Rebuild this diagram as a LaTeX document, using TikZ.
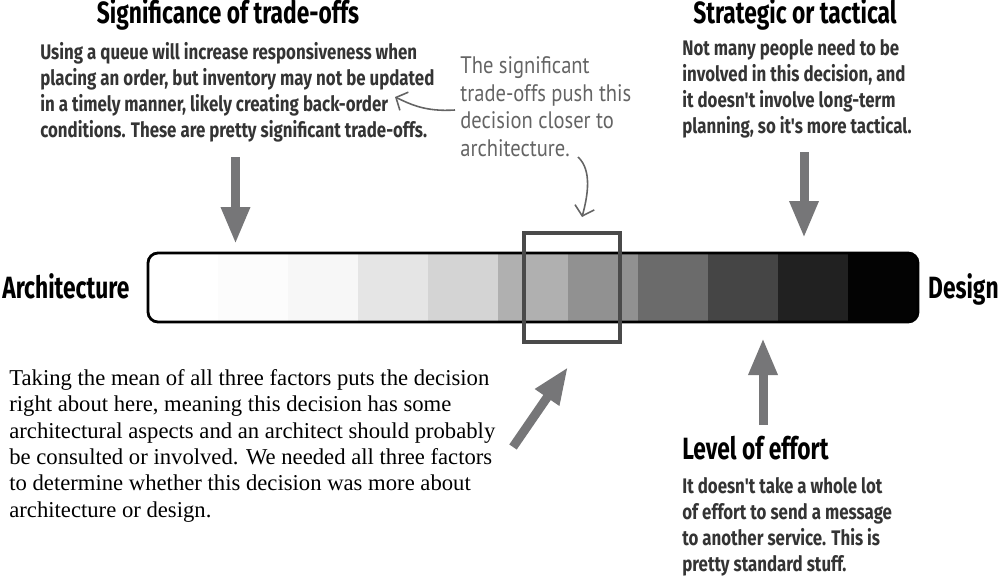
\documentclass[tikz,border=0pt]{standalone}
\usepackage{fontspec}
\setmainfont{Liberation Serif}
\newfontfamily\adhandfont[FakeStretch=0.74]{Fira Sans}
\newfontfamily\adbodyfont[FakeStretch=0.80]{Fira Sans}
\newfontfamily\adnotefont[FakeStretch=0.86]{PT Sans}
\usetikzlibrary{
  arrows.meta,
  positioning,
  calc
}
\definecolor{adInk}{RGB}{0,0,0}
\definecolor{adBody}{RGB}{52,52,52}
\definecolor{adNote}{RGB}{100,100,100}
\definecolor{adArrow}{RGB}{118,118,120}
\definecolor{adFrame}{RGB}{74,74,74}
\tikzset{
  adseg/.style={
    inner sep=0pt,
    outer sep=0pt,
    minimum width=14mm,
    minimum height=13.8mm
  },
  adbar/.style={
    draw=adInk,
    line width=1.6pt,
    rounded corners=2mm,
    inner sep=0pt,
    minimum width=154mm,
    minimum height=13.8mm
  },
  adframe/.style={
    draw=adFrame,
    line width=2.8pt,
    inner sep=0pt,
    minimum width=19.2mm,
    minimum height=21.8mm
  },
  adhead/.style={
    text=adInk,
    inner sep=0pt,
    font=\adhandfont\bfseries\fontsize{17.5}{20}\selectfont
  },
  adbody/.style={
    text=adBody,
    inner sep=0pt,
    align=left,
    anchor=north west,
    font=\adbodyfont\bfseries\fontsize{12}{14.8}\selectfont
  },
  adnote/.style={
    text=adNote,
    inner sep=0pt,
    align=left,
    anchor=north west,
    font=\adnotefont\fontsize{13.6}{15.8}\selectfont
  },
  adserif/.style={
    text=adInk,
    inner sep=0pt,
    align=left,
    anchor=north west,
    font=\fontsize{12.9}{15}\selectfont
  },
  adarrow/.style={
    -{Triangle[length=7.4mm,width=5.4mm]},
    line width=1.8mm,
    draw=adArrow
  },
  adnotearrow/.style={
    -{Straight Barb[length=1.8mm,width=4mm]},
    line width=0.9pt,
    draw=adNote
  }
}

\begin{document}
\begin{tikzpicture}[x=0.2mm,y=-0.2mm]
  \useasboundingbox (0,0) rectangle (1000,578);

  \begin{scope}
    \clip[rounded corners=2mm] (148,253) rectangle (918,322);
    \node[adseg, fill=white] (s1) at (183,287.5) {};
    \node[adseg, right=0pt of s1, fill=black!1] (s2) {};
    \node[adseg, right=0pt of s2, fill=black!3] (s3) {};
    \node[adseg, right=0pt of s3, fill=black!10] (s4) {};
    \node[adseg, right=0pt of s4, fill=black!17] (s5) {};
    \node[adseg, right=0pt of s5, fill=black!31] (s6) {};
    \node[adseg, right=0pt of s6, fill=black!43] (s7) {};
    \node[adseg, right=0pt of s7, fill=black!58] (s8) {};
    \node[adseg, right=0pt of s8, fill=black!73] (s9) {};
    \node[adseg, right=0pt of s9, fill=black!87] (s10) {};
    \node[adseg, right=0pt of s10, fill=black!99] (s11) {};
  \end{scope}
  \node[adbar] (bar) at (533,287.5) {};
  \node[adframe] (mean) at (572,287.5) {};

  \node[adhead, anchor=base west] (arch) at (2,298) {Architecture};
  \node[adhead, anchor=base east] (design) at (999,298) {Design};

  \node[adhead, anchor=base] (tradehead) at (228,24) {Significance of trade-offs};
  \node[adbody] (tradebody) at (40,42)
    {Using a queue will increase responsiveness when\\
     placing an order, but inventory may not be updated\\
     in a timely manner, likely creating back-order\\
     conditions. These are pretty significant trade-offs.};

  \node[adhead, anchor=base] (stratHead) at (795,24) {Strategic or tactical};
  \node[adbody] (stratbody) at (682,39)
    {Not many people need to be\\
     involved in this decision, and\\
     it doesn't involve long-term\\
     planning, so it's more tactical.};

  \node[adhead, anchor=base west] (efforthead) at (682,459) {Level of effort};
  \node[adbody] (effortbody) at (682,477)
    {It doesn't take a whole lot\\
     of effort to send a message\\
     to another service. This is\\
     pretty standard stuff.};

  \node[adnote] (note) at (460,56)
    {The significant\\
     trade-offs push this\\
     decision closer to\\
     architecture.};

  \node[adserif] (meantext) at (9,369)
    {Taking the mean of all three factors puts the decision\\
     right about here, meaning this decision has some\\
     architectural aspects and an architect should probably\\
     be consulted or involved. We needed all three factors\\
     to determine whether this decision was more about\\
     architecture or design.};

  \coordinate (tradeTail) at (235.5,157);
  \coordinate (tradeTip) at (235.5,244);
  \coordinate (stratTail) at (804,152);
  \coordinate (stratTip) at (804,238);
  \coordinate (effortTail) at (763,425);
  \coordinate (effortTip) at (763,338);
  \coordinate (meanTail) at (513,447);
  \coordinate (meanTip) at (568,367);
  \draw[adarrow] (tradeTail) -- (tradeTip);
  \draw[adarrow] (stratTail) -- (stratTip);
  \draw[adarrow] (effortTail) -- (effortTip);
  \draw[adarrow] (meanTail) -- (meanTip);

  \coordinate (noteOut) at (455,110);
  \coordinate (noteIn) at (395,97);
  \coordinate (noteDown) at (578,157);
  \coordinate (noteBox) at (582,217);
  \draw[adnotearrow] (noteOut) .. controls (425,112) and (410,104) .. (noteIn);
  \draw[adnotearrow] (noteDown) .. controls (592,170) and (588,195) .. (noteBox);
\end{tikzpicture}
\end{document}
